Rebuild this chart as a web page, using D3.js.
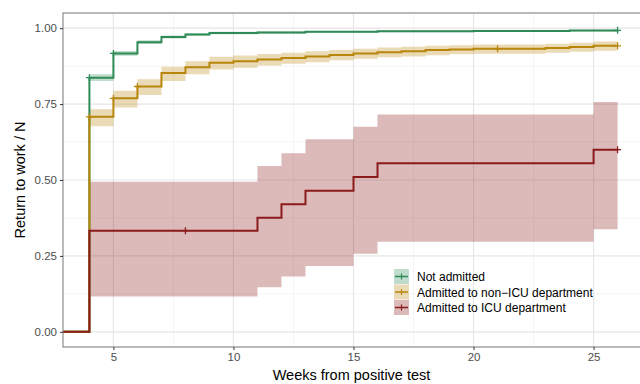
<!DOCTYPE html>
<html>
<head>
<meta charset="utf-8">
<script src="https://cdn.jsdelivr.net/npm/d3@7"></script>
<style>
  body { margin: 0; background: #fff; }
  svg { font-family: "Liberation Sans", Arial, sans-serif; display: block; }
</style>
</head>
<body>
<div id="chart"></div>
<script>
/* Return to work after a positive test, Kaplan-Meier style step curves
   with confidence bands, one curve per admission group. */

// group names + colours
const groups  = ["Not admitted", "Admitted to non\u2212ICU department", "Admitted to ICU department"];
const colors  = ["#2e8b57", "#b8860b", "#8b1a1a"];

// Not admitted
const greenT  = [0, 4, 5, 6, 7, 8, 9, 11, 13, 16, 20, 24, 26];
const greenS  = [0, 0.837, 0.917, 0.954, 0.971, 0.979, 0.984, 0.986, 0.988, 0.990, 0.991, 0.992, 0.993];
const greenLo = [0, 0.826, 0.909, 0.948, 0.966, 0.975, 0.980, 0.982, 0.985, 0.987, 0.988, 0.989, 0.990];
const greenHi = [0, 0.848, 0.925, 0.960, 0.976, 0.983, 0.988, 0.990, 0.991, 0.993, 0.994, 0.995, 0.996];
const greenCens = [4, 5, 26];

// Admitted to non-ICU department
const goldT  = [0, 4, 5, 6, 7, 8, 9, 10, 11, 12, 13, 14, 15, 16, 17, 18, 19, 20, 23, 24, 25, 26];
const goldS  = [0, 0.708, 0.769, 0.808, 0.852, 0.871, 0.886, 0.891, 0.897, 0.902, 0.907, 0.912, 0.917, 0.921, 0.924, 0.928, 0.930, 0.932, 0.935, 0.938, 0.942, 0.942];
const goldLo = [0, 0.677, 0.739, 0.780, 0.826, 0.848, 0.864, 0.870, 0.877, 0.883, 0.888, 0.894, 0.899, 0.904, 0.907, 0.911, 0.914, 0.916, 0.919, 0.922, 0.926, 0.926];
const goldHi = [0, 0.733, 0.794, 0.832, 0.873, 0.891, 0.906, 0.910, 0.915, 0.919, 0.924, 0.928, 0.932, 0.936, 0.939, 0.942, 0.944, 0.946, 0.949, 0.952, 0.956, 0.956];
const goldCens = [4, 5, 6, 21, 26];

// Admitted to ICU department
const redT  = [0, 4, 11, 12, 13, 15, 16, 25, 26];
const redS  = [0, 0.333, 0.376, 0.420, 0.465, 0.510, 0.555, 0.600, 0.600];
const redLo = [0, 0.116, 0.147, 0.182, 0.217, 0.257, 0.297, 0.338, 0.338];
const redHi = [0, 0.494, 0.546, 0.588, 0.634, 0.675, 0.716, 0.757, 0.757];
const redCens = [8, 26];

const xTicks = [5, 10, 15, 20, 25];
const yTicks = [0, 0.25, 0.5, 0.75, 1];

const W = 640, H = 384;
const M = {left: 63, top: 13, right: -4, bottom: 37};
const innerW = W - M.left - M.right, innerH = H - M.top - M.bottom;

const x = d3.scaleLinear().domain([2.9, 27.1]).range([0, innerW]);
const y = d3.scaleLinear().domain([-0.05, 1.05]).range([innerH, 0]);

const svg = d3.select("#chart").append("svg").attr("width", W).attr("height", H);
svg.append("defs").append("clipPath").attr("id", "clip")
    .append("rect").attr("width", innerW).attr("height", innerH);
const g = svg.append("g").attr("transform", `translate(${M.left},${M.top})`);

// grid: minor first, then major
const minorX = xTicks.map(v => v - 2.5).concat([27.5]);
const minorY = yTicks.slice(0, -1).map(v => v + 0.125);
const grid = g.append("g").attr("clip-path", "url(#clip)");
grid.selectAll(".mx").data(minorX).join("line")
    .attr("x1", d => x(d)).attr("x2", d => x(d)).attr("y1", 0).attr("y2", innerH)
    .attr("stroke", "#f2f2f2").attr("stroke-width", 0.8);
grid.selectAll(".my").data(minorY).join("line")
    .attr("y1", d => y(d)).attr("y2", d => y(d)).attr("x1", 0).attr("x2", innerW)
    .attr("stroke", "#f2f2f2").attr("stroke-width", 0.8);
grid.selectAll(".gx").data(xTicks).join("line")
    .attr("x1", d => x(d)).attr("x2", d => x(d)).attr("y1", 0).attr("y2", innerH)
    .attr("stroke", "#e6e6e6").attr("stroke-width", 1.2);
grid.selectAll(".gy").data(yTicks).join("line")
    .attr("y1", d => y(d)).attr("y2", d => y(d)).attr("x1", 0).attr("x2", innerW)
    .attr("stroke", "#e6e6e6").attr("stroke-width", 1.2);

const series = [
  {t: greenT, s: greenS, lo: greenLo, hi: greenHi, cens: greenCens},
  {t: goldT,  s: goldS,  lo: goldLo,  hi: goldHi,  cens: goldCens},
  {t: redT,   s: redS,   lo: redLo,   hi: redHi,   cens: redCens}
];

const plot = g.append("g").attr("clip-path", "url(#clip)");

// confidence bands (start where the curve first jumps)
const band = d3.area().curve(d3.curveStepAfter)
    .x(d => x(d.t)).y0(d => y(d.lo)).y1(d => y(d.hi));
series.forEach((s, i) => {
  const pts = s.t.map((t, j) => ({t, lo: s.lo[j], hi: s.hi[j]})).filter(d => d.t > 0);
  plot.append("path").datum(pts).attr("d", band)
      .attr("fill", colors[i]).attr("fill-opacity", 0.3);
});

// step lines
const line = d3.line().curve(d3.curveStepAfter).x(d => x(d.t)).y(d => y(d.s));
series.forEach((s, i) => {
  const pts = s.t.map((t, j) => ({t: j === 0 ? 2.9 : t, s: s.s[j]}));
  plot.append("path").datum(pts).attr("d", line)
      .attr("fill", "none").attr("stroke", colors[i]).attr("stroke-width", 2);
});

// censor marks
function valueAt(s, t){
  let v = 0;
  s.t.forEach((tt, j) => { if (tt <= t) v = s.s[j]; });
  return v;
}
series.forEach((s, i) => {
  s.cens.forEach(t => {
    const cx = x(t), cy = y(valueAt(s, t));
    plot.append("path").attr("d", `M${cx - 3.5},${cy}H${cx + 3.5}M${cx},${cy - 3.5}V${cy + 3.5}`)
        .attr("stroke", colors[i]).attr("stroke-width", 1.3);
  });
});

// panel border
g.append("rect").attr("width", innerW).attr("height", innerH)
    .attr("fill", "none").attr("stroke", "#777").attr("stroke-width", 1);

// axes
const xAxis = g.append("g").attr("transform", `translate(0,${innerH})`)
    .call(d3.axisBottom(x).tickValues(xTicks).tickSize(3).tickPadding(3).tickFormat(d3.format("d")));
const yAxis = g.append("g")
    .call(d3.axisLeft(y).tickValues(yTicks).tickSize(3).tickPadding(3).tickFormat(d3.format(".2f")));
[xAxis, yAxis].forEach(a => {
  a.select(".domain").remove();
  a.selectAll(".tick line").attr("stroke", "#333");
  a.selectAll(".tick text").attr("fill", "#4d4d4d").style("font-size", "11.5px")
      .style("font-family", "'Liberation Sans', Arial, sans-serif");
});

svg.append("text").attr("x", M.left + (W - M.left) / 2).attr("y", 380)
    .attr("text-anchor", "middle").style("font-size", "14.5px").text("Weeks from positive test");
svg.append("text").attr("transform", `translate(25,${M.top + innerH / 2}) rotate(-90)`)
    .attr("text-anchor", "middle").style("font-size", "14.5px").text("Return to work / N");

// legend
const leg = svg.append("g").attr("transform", "translate(394,269)");
groups.forEach((name, i) => {
  const row = leg.append("g").attr("transform", `translate(0,${i * 15.5})`);
  row.append("rect").attr("width", 15).attr("height", 15)
      .attr("fill", colors[i]).attr("fill-opacity", 0.3);
  row.append("line").attr("x1", 1).attr("x2", 14).attr("y1", 7.5).attr("y2", 7.5)
      .attr("stroke", colors[i]).attr("stroke-width", 1.5);
  row.append("line").attr("x1", 7.5).attr("x2", 7.5).attr("y1", 4.5).attr("y2", 10.5)
      .attr("stroke", colors[i]).attr("stroke-width", 1.2);
  row.append("text").attr("x", 23).attr("y", 12).style("font-size", "12px").text(name);
});
</script>
</body>
</html>
